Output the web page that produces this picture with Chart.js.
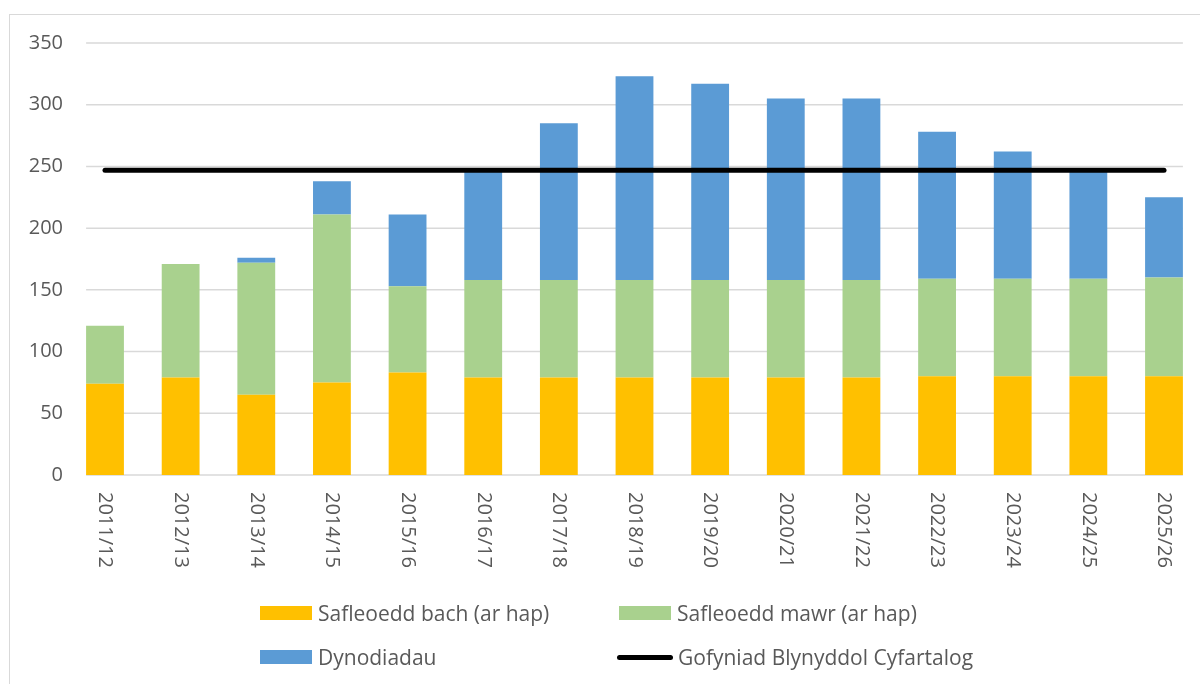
<!DOCTYPE html>
<html lang="cy">
<head>
    <meta charset="UTF-8">
    <meta name="viewport" content="width=device-width, initial-scale=1.0">
    <title>Cyflenwad tir ar gyfer tai</title>
    <script src="https://cdn.jsdelivr.net/npm/chart.js"></script>
    <style>
        body { margin: 0; width: 1200px; height: 684px; overflow: hidden; background: #fff; font-family: "Open Sans", sans-serif; }
        #frame { position: absolute; left: 9px; top: 14px; width: 1300px; height: 800px; border: 1px solid #d9d9d9; }
        #wrap { position: absolute; left: 0; top: 0; width: 1200px; height: 684px; }
        .legend-item { position: absolute; display: flex; align-items: center; transform: translateY(-50%); font-size: 21px; color: #595959; white-space: nowrap; }
        .swatch { width: 52px; height: 14px; margin-right: 6px; }
        .swatch.line { width: 56px; height: 5px; border-radius: 3px; background: #000; margin-right: 5px; }
    </style>
</head>
<body>
    <div id="frame"></div>
    <div id="wrap">
        <canvas id="housingChart" width="1200" height="684"></canvas>
    </div>
    <div id="legend"></div>

    <script>
        const years = ['2011/12', '2012/13', '2013/14', '2014/15', '2015/16', '2016/17', '2017/18', '2018/19',
                       '2019/20', '2020/21', '2021/22', '2022/23', '2023/24', '2024/25', '2025/26'];
        const smallSites = [74, 79, 65, 75, 83, 79, 79, 79, 79, 79, 79, 80, 80, 80, 80];
        const largeSites = [47, 92, 107, 136, 70, 79, 79, 79, 79, 79, 79, 79, 79, 79, 80];
        const allocations = [0, 0, 4, 27, 58, 89, 127, 165, 159, 147, 147, 119, 103, 88, 65];
        const avgRequirement = [247, 247, 247, 247, 247, 247, 247, 247, 247, 247, 247, 247, 247, 247, 247];
        const yTicks = [0, 50, 100, 150, 200, 250, 300, 350];

        const textGrey = '#595959';
        const gridGrey = '#d9d9d9';

        // horizontal grid lines run from the first bar's left edge to the last bar's right edge
        const gridPlugin = {
            id: 'barGrid',
            beforeDatasetsDraw(chart) {
                const y = chart.scales.y;
                const bars = chart.getDatasetMeta(1).data;
                const x0 = bars[0].x - bars[0].width / 2;
                const x1 = bars[bars.length - 1].x + bars[bars.length - 1].width / 2;
                const ctx = chart.ctx;
                ctx.save();
                ctx.strokeStyle = gridGrey;
                ctx.lineWidth = 1.5;
                y.ticks.forEach(t => {
                    const py = y.getPixelForValue(t.value);
                    ctx.beginPath();
                    ctx.moveTo(x0, py);
                    ctx.lineTo(x1, py);
                    ctx.stroke();
                });
                ctx.restore();
            }
        };

        // year labels turned a quarter clockwise, reading downwards
        const yearLabels = {
            id: 'yearLabels',
            afterDraw(chart) {
                const x = chart.scales.x;
                const ctx = chart.ctx;
                ctx.save();
                ctx.fillStyle = textGrey;
                ctx.font = '20px "Open Sans"';
                ctx.textAlign = 'left';
                ctx.textBaseline = 'middle';
                years.forEach((label, i) => {
                    ctx.save();
                    ctx.translate(x.getPixelForTick(i), chart.chartArea.bottom + 17);
                    ctx.rotate(Math.PI / 2);
                    ctx.fillText(label, 0, 0);
                    ctx.restore();
                });
                ctx.restore();
            }
        };

        const ctx = document.getElementById('housingChart').getContext('2d');
        const housingChart = new Chart(ctx, {
            type: 'bar',
            data: {
                labels: years,
                datasets: [{
                    type: 'line',
                    label: 'Gofyniad Blynyddol Cyfartalog',
                    data: avgRequirement,
                    borderColor: '#000',
                    borderWidth: 5,
                    borderCapStyle: 'round',
                    pointRadius: 0,
                    stack: 'line',
                    order: 0,
                    clip: false
                }, {
                    label: 'Safleoedd bach (ar hap)',
                    data: smallSites,
                    backgroundColor: '#ffc000',
                    stack: 'bars',
                    order: 1,
                    clip: false
                }, {
                    label: 'Safleoedd mawr (ar hap)',
                    data: largeSites,
                    backgroundColor: '#a9d18e',
                    stack: 'bars',
                    order: 1,
                    clip: false
                }, {
                    label: 'Dynodiadau',
                    data: allocations,
                    backgroundColor: '#5b9bd5',
                    stack: 'bars',
                    order: 1,
                    clip: false
                }]
            },
            options: {
                responsive: false,
                animation: false,
                layout: { padding: { top: 43, left: 10, right: 36, bottom: 0 } },
                datasets: { bar: { categoryPercentage: 1, barPercentage: 0.5 } },
                plugins: {
                    legend: { display: false },
                    tooltip: { enabled: false }
                },
                scales: {
                    x: {
                        stacked: true,
                        offset: false,
                        grid: { display: false },
                        border: { display: false },
                        ticks: { display: false },
                        afterFit(scale) { scale.height = 209; }
                    },
                    y: {
                        stacked: true,
                        min: 0,
                        max: 350,
                        grid: { display: false, drawTicks: false },
                        border: { display: false },
                        afterBuildTicks(scale) { scale.ticks = yTicks.map(v => ({ value: v })); },
                        ticks: {
                            padding: 42,
                            color: textGrey,
                            font: { family: '"Open Sans"', size: 20 }
                        },
                        afterFit(scale) {
                            // the label gap is horizontal only; keep it from padding the top and bottom
                            scale.width = 95;
                            scale.paddingTop = 0;
                            scale.paddingBottom = 0;
                        }
                    }
                }
            },
            plugins: [gridPlugin, yearLabels]
        });

        // legend laid out in two rows of two, as in the report
        const legendItems = [
            { text: 'Safleoedd bach (ar hap)', color: '#ffc000', left: 260, top: 613 },
            { text: 'Safleoedd mawr (ar hap)', color: '#a9d18e', left: 619, top: 613 },
            { text: 'Dynodiadau', color: '#5b9bd5', left: 260, top: 657 },
            { text: 'Gofyniad Blynyddol Cyfartalog', line: true, left: 617, top: 657 }
        ];
        const legend = document.getElementById('legend');
        legendItems.forEach(item => {
            const el = document.createElement('div');
            el.className = 'legend-item';
            el.style.left = item.left + 'px';
            el.style.top = item.top + 'px';
            const sw = document.createElement('span');
            sw.className = item.line ? 'swatch line' : 'swatch';
            if (!item.line) sw.style.background = item.color;
            el.appendChild(sw);
            el.appendChild(document.createTextNode(item.text));
            legend.appendChild(el);
        });
    </script>
</body>
</html>
